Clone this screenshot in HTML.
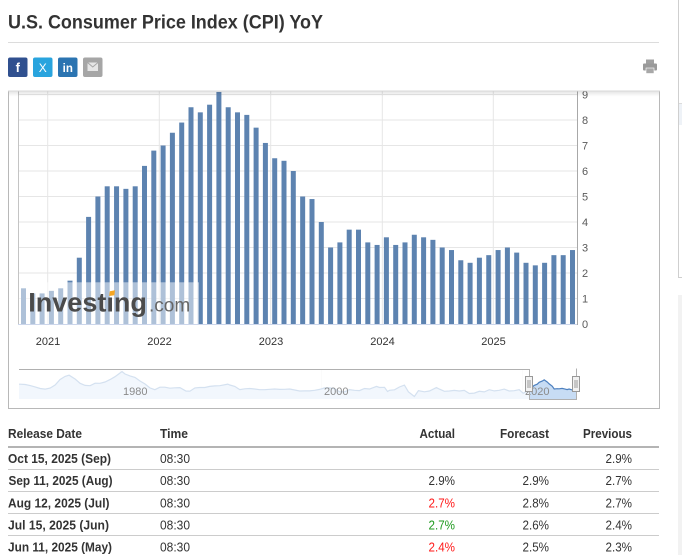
<!DOCTYPE html>
<html>
<head>
<meta charset="utf-8">
<style>
html,body{margin:0;padding:0;background:#fff;}
body{width:682px;height:555px;overflow:hidden;position:relative;}
svg{display:block;}
</style>
</head>
<body>
<svg width="682" height="555" viewBox="0 0 682 555" xmlns="http://www.w3.org/2000/svg" font-family="'Liberation Sans', Arial, sans-serif">
  <defs>
    <linearGradient id="sh" x1="0" y1="0" x2="0" y2="1">
      <stop offset="0" stop-color="#000" stop-opacity="0.10"/>
      <stop offset="1" stop-color="#000" stop-opacity="0"/>
    </linearGradient>
    <clipPath id="plotclip"><rect x="0" y="91" width="682" height="240"/></clipPath>
  </defs>

  <!-- Title -->
  <text x="8" y="28.3" font-size="19.5" font-weight="bold" fill="#333" textLength="315" lengthAdjust="spacingAndGlyphs">U.S. Consumer Price Index (CPI) YoY</text>
  <line x1="8" y1="42.5" x2="659" y2="42.5" stroke="#dcdcdc" stroke-width="1"/>

  <!-- Social icons -->
  <rect x="8" y="57.5" width="19.5" height="19.5" rx="2" fill="#30508f"/>
  <text x="17.8" y="72" font-size="13" font-weight="bold" fill="#fff" text-anchor="middle">f</text>
  <rect x="33" y="57.5" width="19.5" height="19.5" rx="2" fill="#29a4de"/>
  <text x="42.8" y="72" font-size="12" fill="#fff" text-anchor="middle">X</text>
  <rect x="58" y="57.5" width="19.5" height="19.5" rx="2" fill="#2b74b1"/>
  <text x="67.8" y="72" font-size="11.5" font-weight="bold" fill="#fff" text-anchor="middle">in</text>
  <rect x="83" y="57.5" width="19.5" height="19.5" rx="2" fill="#a6a6a6"/>
  <rect x="87.5" y="62.5" width="10.5" height="8.5" fill="#e6e6e6"/>
  <polyline points="87.5,62.5 92.75,67 98,62.5" fill="none" stroke="#a6a6a6" stroke-width="1"/>

  <!-- Print icon -->
  <rect x="646" y="59.5" width="8" height="4" fill="#a0a0a0"/>
  <rect x="643" y="63.5" width="14" height="7" rx="1" fill="#9a9a9a"/>
  <rect x="646" y="68" width="8" height="5.5" fill="#a8a8a8" stroke="#fff" stroke-width="0.6"/>

  <!-- Right edge decorations -->
  <line x1="678.5" y1="0" x2="678.5" y2="277.5" stroke="#cfcfcf"/>
  <line x1="678" y1="277.5" x2="682" y2="277.5" stroke="#cfcfcf"/>
  <line x1="679" y1="103.5" x2="682" y2="103.5" stroke="#dcdcdc"/>
  <rect x="679" y="104" width="3" height="21" fill="#eef2f7"/>
  <rect x="678" y="295" width="4" height="260" fill="#f2f2f2"/>

  <!-- Chart box -->
  <line x1="8.5" y1="91" x2="8.5" y2="408.5" stroke="#b8b8b8"/>
  <line x1="659.5" y1="91" x2="659.5" y2="408.5" stroke="#b8b8b8"/>
  <line x1="8" y1="408.5" x2="660" y2="408.5" stroke="#b8b8b8"/>

  <g clip-path="url(#plotclip)">
    <!-- horizontal grid -->
    <g stroke="#e6e6e6" stroke-width="1">
      <line x1="18" y1="298.5" x2="577" y2="298.5"/>
      <line x1="18" y1="273" x2="577" y2="273"/>
      <line x1="18" y1="247.5" x2="577" y2="247.5"/>
      <line x1="18" y1="222" x2="577" y2="222"/>
      <line x1="18" y1="196.5" x2="577" y2="196.5"/>
      <line x1="18" y1="171" x2="577" y2="171"/>
      <line x1="18" y1="145.5" x2="577" y2="145.5"/>
      <line x1="18" y1="120" x2="577" y2="120"/>
      <line x1="18" y1="94.5" x2="577" y2="94.5"/>
      <!-- vertical grid -->
      <line x1="47.7" y1="91" x2="47.7" y2="324"/>
      <line x1="159.3" y1="91" x2="159.3" y2="324"/>
      <line x1="270.7" y1="91" x2="270.7" y2="324"/>
      <line x1="382.3" y1="91" x2="382.3" y2="324"/>
      <line x1="493.3" y1="91" x2="493.3" y2="324"/>
    </g>

    <!-- bars -->
    <g fill="#5d83b0">
      <rect x="21.0" y="288.3" width="5" height="35.7"/>
      <rect x="30.3" y="293.4" width="5" height="30.6"/>
      <rect x="39.6" y="293.4" width="5" height="30.6"/>
      <rect x="48.9" y="290.85" width="5" height="33.15"/>
      <rect x="58.2" y="288.3" width="5" height="35.7"/>
      <rect x="67.5" y="280.65" width="5" height="43.35"/>
      <rect x="76.8" y="257.7" width="5" height="66.3"/>
      <rect x="86.1" y="216.9" width="5" height="107.1"/>
      <rect x="95.4" y="196.5" width="5" height="127.5"/>
      <rect x="104.7" y="186.3" width="5" height="137.7"/>
      <rect x="114.05" y="186.3" width="5" height="137.7"/>
      <rect x="123.4" y="188.85" width="5" height="135.15"/>
      <rect x="132.7" y="186.3" width="5" height="137.7"/>
      <rect x="142.0" y="165.9" width="5" height="158.1"/>
      <rect x="151.3" y="150.6" width="5" height="173.4"/>
      <rect x="160.6" y="145.5" width="5" height="178.5"/>
      <rect x="169.9" y="132.75" width="5" height="191.25"/>
      <rect x="179.2" y="122.55" width="5" height="201.45"/>
      <rect x="188.5" y="107.25" width="5" height="216.75"/>
      <rect x="197.8" y="112.35" width="5" height="211.65"/>
      <rect x="207.1" y="104.7" width="5" height="219.3"/>
      <rect x="216.4" y="91.95" width="5" height="232.05"/>
      <rect x="225.7" y="107.25" width="5" height="216.75"/>
      <rect x="235.0" y="112.35" width="5" height="211.65"/>
      <rect x="244.3" y="114.9" width="5" height="209.1"/>
      <rect x="253.6" y="127.65" width="5" height="196.35"/>
      <rect x="262.9" y="142.95" width="5" height="181.05"/>
      <rect x="272.2" y="158.25" width="5" height="165.75"/>
      <rect x="281.5" y="160.8" width="5" height="163.2"/>
      <rect x="290.8" y="171" width="5" height="153"/>
      <rect x="300.15" y="196.5" width="5" height="127.5"/>
      <rect x="309.5" y="199.05" width="5" height="124.95"/>
      <rect x="318.8" y="222" width="5" height="102"/>
      <rect x="328.1" y="247.5" width="5" height="76.5"/>
      <rect x="337.4" y="242.4" width="5" height="81.6"/>
      <rect x="346.7" y="229.65" width="5" height="94.35"/>
      <rect x="356.0" y="229.65" width="5" height="94.35"/>
      <rect x="365.3" y="242.4" width="5" height="81.6"/>
      <rect x="374.6" y="244.95" width="5" height="79.05"/>
      <rect x="383.9" y="237.3" width="5" height="86.7"/>
      <rect x="393.2" y="244.95" width="5" height="79.05"/>
      <rect x="402.5" y="242.4" width="5" height="81.6"/>
      <rect x="411.8" y="234.75" width="5" height="89.25"/>
      <rect x="421.1" y="237.3" width="5" height="86.7"/>
      <rect x="430.4" y="239.85" width="5" height="84.15"/>
      <rect x="439.7" y="247.5" width="5" height="76.5"/>
      <rect x="449.0" y="250.05" width="5" height="73.95"/>
      <rect x="458.3" y="260.25" width="5" height="63.75"/>
      <rect x="467.6" y="262.8" width="5" height="61.2"/>
      <rect x="476.9" y="257.7" width="5" height="66.3"/>
      <rect x="486.25" y="255.15" width="5" height="68.85"/>
      <rect x="495.6" y="250.05" width="5" height="73.95"/>
      <rect x="504.9" y="247.5" width="5" height="76.5"/>
      <rect x="514.2" y="252.6" width="5" height="71.4"/>
      <rect x="523.5" y="262.8" width="5" height="61.2"/>
      <rect x="532.8" y="265.35" width="5" height="58.65"/>
      <rect x="542.1" y="262.8" width="5" height="61.2"/>
      <rect x="551.4" y="255.15" width="5" height="68.85"/>
      <rect x="560.7" y="255.15" width="5" height="68.85"/>
      <rect x="570.0" y="250.05" width="5" height="73.95"/>
    </g>

    <!-- watermark -->
    <rect x="18" y="282.3" width="181" height="41.7" fill="#fff" fill-opacity="0.5"/>
    <text x="28.3" y="311.7" font-size="27" font-weight="bold" fill="#4b4b4b">Investıng</text>
    <polygon points="109.8,291.2 115,290.3 114.4,295.2 109.2,296" fill="#f5a623"/>
    <text x="149" y="311.7" font-size="19" fill="#666">.com</text>

    <!-- axes lines -->
    <line x1="18.5" y1="91" x2="18.5" y2="324" stroke="#c4c4c4"/>
    <line x1="18" y1="324.5" x2="577" y2="324.5" stroke="#ccd6eb"/>
    <line x1="577.5" y1="91" x2="577.5" y2="325" stroke="#a8a8a8"/>

    <!-- y labels -->
    <g font-size="11" fill="#5a5a5a">
      <text x="582" y="328">0</text>
      <text x="582" y="302.5">1</text>
      <text x="582" y="277">2</text>
      <text x="582" y="251.5">3</text>
      <text x="582" y="226">4</text>
      <text x="582" y="200.5">5</text>
      <text x="582" y="175">6</text>
      <text x="582" y="149.5">7</text>
      <text x="582" y="124">8</text>
      <text x="582" y="98.5">9</text>
    </g>
  </g>

  <!-- top shadow of chart area -->
  <line x1="8" y1="91" x2="660" y2="91" stroke="#d8d8d8"/>
  <rect x="9" y="91.5" width="650" height="5" fill="url(#sh)"/>

  <!-- x labels -->
  <g font-size="11" fill="#333" text-anchor="middle">
    <text x="48" y="345">2021</text>
    <text x="159.5" y="345">2022</text>
    <text x="271" y="345">2023</text>
    <text x="382.5" y="345">2024</text>
    <text x="493.5" y="345">2025</text>
  </g>

  <!-- Navigator -->
  <g>
    <line x1="120.5" y1="369" x2="120.5" y2="399" stroke="#eeeeee"/>
    <line x1="321.5" y1="369" x2="321.5" y2="399" stroke="#eeeeee"/>
    <line x1="522.5" y1="369" x2="522.5" y2="399" stroke="#eeeeee"/>
    <path d="M20.2,384.2 L25.2,384.5 L30.2,385.6 L35.1,386.9 L40.2,388.5 L45.2,389.1 L50.1,388.1 L55.1,385.0 L60.1,379.5 L65.1,376.4 L69.1,375.2 L75.1,379.0 L80.1,383.3 L85.1,385.4 L90.1,385.7 L95.1,383.2 L100.0,383.3 L105.0,382.0 L110.0,379.6 L115.0,376.7 L122.0,371.5 L125.0,374.0 L130.0,375.9 L135.0,377.4 L140.0,381.0 L144.9,383.9 L149.9,387.9 L154.9,389.7 L159.9,387.2 L164.9,387.2 L169.9,388.2 L174.9,387.8 L179.9,387.6 L185.9,391.0 L189.9,391.2 L194.9,387.9 L199.8,387.5 L204.8,387.5 L209.8,386.4 L214.8,385.9 L219.8,385.7 L227.8,384.1 L229.8,385.0 L234.8,386.4 L239.8,389.6 L244.8,388.8 L249.7,388.5 L254.7,389.0 L259.7,389.7 L264.7,389.7 L269.7,389.3 L274.7,389.0 L279.7,389.4 L284.7,389.3 L289.7,389.0 L294.7,390.0 L299.6,391.0 L304.6,390.9 L309.6,390.9 L314.6,390.3 L319.6,389.4 L324.6,387.9 L329.6,387.9 L334.6,388.7 L339.6,391.8 L344.6,391.8 L349.5,389.6 L354.5,390.3 L359.5,390.6 L364.5,388.5 L369.5,389.0 L376.5,386.4 L379.5,387.5 L384.5,387.3 L387.5,391.5 L389.5,390.3 L394.5,389.8 L399.4,387.0 L404.4,385.1 L408.4,391.8 L414.4,396.5 L418.4,390.7 L424.4,391.8 L429.4,391.0 L436.4,387.6 L439.4,389.1 L444.4,391.3 L449.3,391.0 L454.3,390.4 L459.3,391.0 L464.3,390.4 L469.3,393.5 L474.3,393.1 L479.3,391.3 L484.3,391.9 L489.3,389.7 L494.3,390.9 L499.2,390.3 L504.2,389.1 L509.2,391.0 L514.2,390.7 L519.2,389.7 L523.2,393.3 L526.2,391.5 L529.2,391.3 L532.2,387.2 L534.2,385.4 L537.2,384.2 L539.2,382.3 L542.2,381.1 L544.2,379.9 L547.2,382.0 L549.2,383.9 L552.2,386.2 L554.2,389.0 L557.2,388.7 L559.1,388.8 L562.1,388.4 L565.1,389.1 L567.1,389.6 L569.1,389.0 L572.1,389.9 L575.1,389.4 L576,389.1 L576,399 L19,399 L19,384.2 Z" fill="#c7dcf4" stroke="none"/>
    <polyline fill="none" stroke="#4d80bf" stroke-width="1.2" points="19,384.2 20.2,384.2 25.2,384.5 30.2,385.6 35.1,386.9 40.2,388.5 45.2,389.1 50.1,388.1 55.1,385.0 60.1,379.5 65.1,376.4 69.1,375.2 75.1,379.0 80.1,383.3 85.1,385.4 90.1,385.7 95.1,383.2 100.0,383.3 105.0,382.0 110.0,379.6 115.0,376.7 122.0,371.5 125.0,374.0 130.0,375.9 135.0,377.4 140.0,381.0 144.9,383.9 149.9,387.9 154.9,389.7 159.9,387.2 164.9,387.2 169.9,388.2 174.9,387.8 179.9,387.6 185.9,391.0 189.9,391.2 194.9,387.9 199.8,387.5 204.8,387.5 209.8,386.4 214.8,385.9 219.8,385.7 227.8,384.1 229.8,385.0 234.8,386.4 239.8,389.6 244.8,388.8 249.7,388.5 254.7,389.0 259.7,389.7 264.7,389.7 269.7,389.3 274.7,389.0 279.7,389.4 284.7,389.3 289.7,389.0 294.7,390.0 299.6,391.0 304.6,390.9 309.6,390.9 314.6,390.3 319.6,389.4 324.6,387.9 329.6,387.9 334.6,388.7 339.6,391.8 344.6,391.8 349.5,389.6 354.5,390.3 359.5,390.6 364.5,388.5 369.5,389.0 376.5,386.4 379.5,387.5 384.5,387.3 387.5,391.5 389.5,390.3 394.5,389.8 399.4,387.0 404.4,385.1 408.4,391.8 414.4,396.5 418.4,390.7 424.4,391.8 429.4,391.0 436.4,387.6 439.4,389.1 444.4,391.3 449.3,391.0 454.3,390.4 459.3,391.0 464.3,390.4 469.3,393.5 474.3,393.1 479.3,391.3 484.3,391.9 489.3,389.7 494.3,390.9 499.2,390.3 504.2,389.1 509.2,391.0 514.2,390.7 519.2,389.7 523.2,393.3 526.2,391.5 529.2,391.3 532.2,387.2 534.2,385.4 537.2,384.2 539.2,382.3 542.2,381.1 544.2,379.9 547.2,382.0 549.2,383.9 552.2,386.2 554.2,389.0 557.2,388.7 559.1,388.8 562.1,388.4 565.1,389.1 567.1,389.6 569.1,389.0 572.1,389.9 575.1,389.4 576,389.1"/>
    <!-- mask over unselected -->
    <rect x="19" y="369.5" width="510.5" height="30" fill="#fff" fill-opacity="0.76"/>
    <!-- labels -->
    <g font-size="11" fill="#8a8a8a">
      <text x="123" y="395">1980</text>
      <text x="324" y="395">2000</text>
      <text x="525" y="395">2020</text>
    </g>
    <!-- outline -->
    <path d="M19,369.5 L529.5,369.5 L529.5,399.5 L576.5,399.5 L576.5,368.5" fill="none" stroke="#b0b0b0" stroke-width="1"/>
    <!-- handles -->
    <rect x="525.5" y="376.5" width="7" height="15" fill="#f2f2f2" stroke="#999"/>
    <line x1="528" y1="380" x2="528" y2="388" stroke="#999"/>
    <line x1="530" y1="380" x2="530" y2="388" stroke="#999"/>
    <rect x="572.5" y="376.5" width="7" height="15" fill="#f2f2f2" stroke="#999"/>
    <line x1="575" y1="380" x2="575" y2="388" stroke="#999"/>
    <line x1="577" y1="380" x2="577" y2="388" stroke="#999"/>
  </g>

  <!-- Table -->
  <g font-size="13" fill="#333">
    <text x="8" y="438" font-weight="bold" textLength="74" lengthAdjust="spacingAndGlyphs">Release Date</text>
    <text x="160" y="438" font-weight="bold" textLength="28" lengthAdjust="spacingAndGlyphs">Time</text>
    <text x="455" y="438" font-weight="bold" text-anchor="end" textLength="35.5" lengthAdjust="spacingAndGlyphs">Actual</text>
    <text x="549" y="438" font-weight="bold" text-anchor="end" textLength="49" lengthAdjust="spacingAndGlyphs">Forecast</text>
    <text x="632" y="438" font-weight="bold" text-anchor="end" textLength="49" lengthAdjust="spacingAndGlyphs">Previous</text>
  </g>
  <line x1="8" y1="447" x2="659" y2="447" stroke="#b4b4b4" stroke-width="2"/>
  <g stroke="#cccccc" stroke-width="1">
    <line x1="8" y1="469.5" x2="659" y2="469.5"/>
    <line x1="8" y1="491.5" x2="659" y2="491.5"/>
    <line x1="8" y1="513.5" x2="659" y2="513.5"/>
    <line x1="8" y1="535.5" x2="659" y2="535.5"/>
  </g>
  <g font-size="13" fill="#333">
    <text x="8" y="462.8" font-weight="bold" textLength="103" lengthAdjust="spacingAndGlyphs">Oct 15, 2025 (Sep)</text>
    <text x="160" y="462.8" textLength="30" lengthAdjust="spacingAndGlyphs">08:30</text>
    <text x="632" y="462.8" text-anchor="end" textLength="26.5" lengthAdjust="spacingAndGlyphs">2.9%</text>

    <text x="8.5" y="485.2" font-weight="bold" textLength="104" lengthAdjust="spacingAndGlyphs">Sep 11, 2025 (Aug)</text>
    <text x="160" y="485.2" textLength="30" lengthAdjust="spacingAndGlyphs">08:30</text>
    <text x="455" y="485.2" text-anchor="end" textLength="26.5" lengthAdjust="spacingAndGlyphs">2.9%</text>
    <text x="549" y="485.2" text-anchor="end" textLength="26.5" lengthAdjust="spacingAndGlyphs">2.9%</text>
    <text x="632" y="485.2" text-anchor="end" textLength="26.5" lengthAdjust="spacingAndGlyphs">2.7%</text>

    <text x="8" y="507.5" font-weight="bold" textLength="101.5" lengthAdjust="spacingAndGlyphs">Aug 12, 2025 (Jul)</text>
    <text x="160" y="507.5" textLength="30" lengthAdjust="spacingAndGlyphs">08:30</text>
    <text x="455" y="507.5" text-anchor="end" fill="#ff1a1a" textLength="26.5" lengthAdjust="spacingAndGlyphs">2.7%</text>
    <text x="549" y="507.5" text-anchor="end" textLength="26.5" lengthAdjust="spacingAndGlyphs">2.8%</text>
    <text x="632" y="507.5" text-anchor="end" textLength="26.5" lengthAdjust="spacingAndGlyphs">2.7%</text>

    <text x="8" y="529.5" font-weight="bold" textLength="101" lengthAdjust="spacingAndGlyphs">Jul 15, 2025 (Jun)</text>
    <text x="160" y="529.5" textLength="30" lengthAdjust="spacingAndGlyphs">08:30</text>
    <text x="455" y="529.5" text-anchor="end" fill="#1f9a1f" textLength="26.5" lengthAdjust="spacingAndGlyphs">2.7%</text>
    <text x="549" y="529.5" text-anchor="end" textLength="26.5" lengthAdjust="spacingAndGlyphs">2.6%</text>
    <text x="632" y="529.5" text-anchor="end" textLength="26.5" lengthAdjust="spacingAndGlyphs">2.4%</text>

    <text x="8" y="551.5" font-weight="bold" textLength="104" lengthAdjust="spacingAndGlyphs">Jun 11, 2025 (May)</text>
    <text x="160" y="551.5" textLength="30" lengthAdjust="spacingAndGlyphs">08:30</text>
    <text x="455" y="551.5" text-anchor="end" fill="#ff1a1a" textLength="26.5" lengthAdjust="spacingAndGlyphs">2.4%</text>
    <text x="549" y="551.5" text-anchor="end" textLength="26.5" lengthAdjust="spacingAndGlyphs">2.5%</text>
    <text x="632" y="551.5" text-anchor="end" textLength="26.5" lengthAdjust="spacingAndGlyphs">2.3%</text>
  </g>
</svg>
</body>
</html>
